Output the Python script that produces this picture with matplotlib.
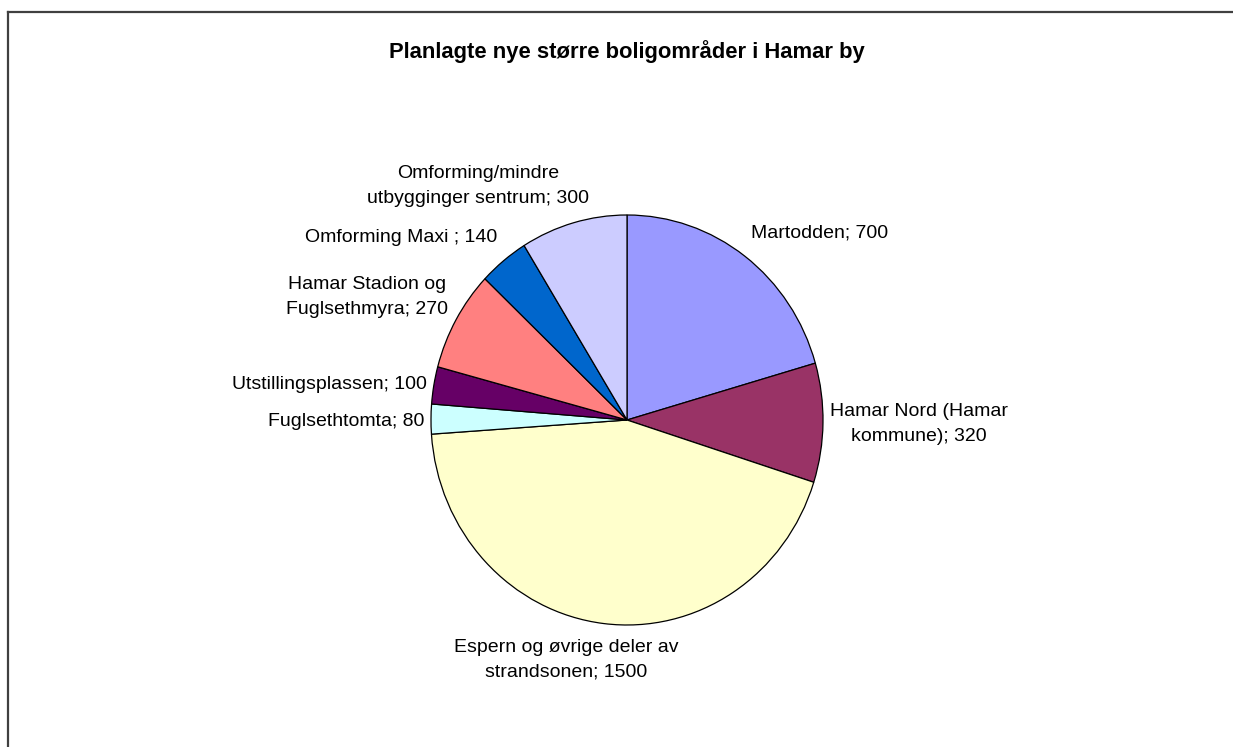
import matplotlib
matplotlib.use("Agg")
import matplotlib.pyplot as plt
from matplotlib.lines import Line2D

plt.rcParams['font.family'] = ['Liberation Sans', 'DejaVu Sans']

# data, clockwise from 12 o'clock
names = ["Martodden", "Hamar Nord (Hamar\nkommune)", "Espern og øvrige deler av\nstrandsonen",
         "Fuglsethtomta", "Utstillingsplassen", "Hamar Stadion og\nFuglsethmyra",
         "Omforming Maxi ", "Omforming/mindre\nutbygginger sentrum"]
values = [700, 320, 1500, 80, 100, 270, 140, 300]
colors = ["#9999FF", "#993366", "#FFFFCC", "#CCFFFF", "#660066", "#FF8080", "#0066CC", "#CCCCFF"]

# label anchors in pie radius units (x, y)
label_pos = [(0.98, 0.912), (1.49, -0.02), (-0.311, -1.171), (-1.434, -0.005),
             (-1.520, 0.171), (-1.327, 0.600), (-1.150, 0.888), (-0.760, 1.141)]

W, H = 1233, 747
fig = plt.figure(figsize=(W / 100, H / 100), dpi=100)

# chart frame (only top and left edges fall inside the image)
fig.add_artist(Line2D([8 / W, 8 / W], [-0.1, 1 - 12 / H], transform=fig.transFigure,
                      color="#404040", lw=1.6))
fig.add_artist(Line2D([8 / W, 1.1], [1 - 12 / H, 1 - 12 / H], transform=fig.transFigure,
                      color="#404040", lw=1.6))

cx, cy, rx, ry = 627, 420, 196, 205
ax = fig.add_axes([(cx - rx) / W, (H - cy - ry) / H, 2 * rx / W, 2 * ry / H])
ax.pie(values, colors=colors, startangle=90, counterclock=False,
       wedgeprops=dict(edgecolor="black", linewidth=0.9))
ax.set_aspect("auto")
ax.set_xlim(-1, 1)
ax.set_ylim(-1, 1)

for name, v, (x, y) in zip(names, values, label_pos):
    ax.text(x, y, f"{name}; {v}", ha="center", va="center", fontsize=14,
            multialignment="center", linespacing=1.6, clip_on=False)

fig.text(626.5 / W, 1 - 52 / H, "Planlagte nye større boligområder i Hamar by",
         ha="center", va="center", fontsize=15.8, fontweight="bold")

fig.savefig("out.png", dpi=100)
